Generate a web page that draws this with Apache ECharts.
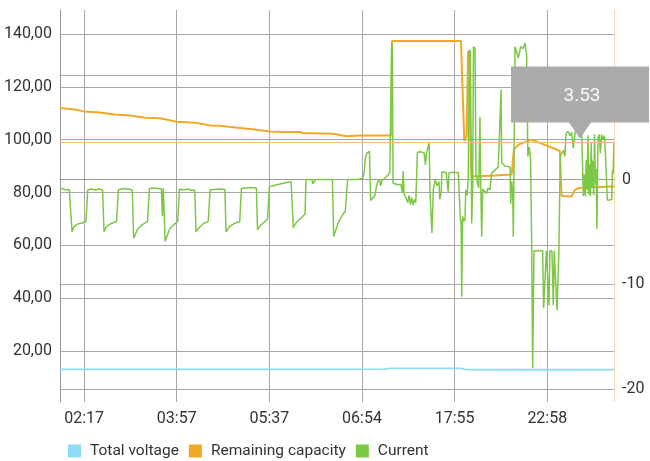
<!DOCTYPE html>
<html>
<head>
<meta charset="utf-8">
<script src="https://cdn.jsdelivr.net/npm/echarts@6/dist/echarts.min.js"></script>
<style>
html,body{margin:0;padding:0;background:#fff;}
#chart{width:650px;height:461px;}
</style>
</head>
<body>
<div id="chart"></div>
<script>
// x positions are sample indices; labels at the given sample indices
const xLabelPos = [26, 126, 226, 326, 426, 526];
const xLabels = ['02:17', '03:57', '05:37', '06:54', '17:55', '22:58'];
const leftTicks = [20, 40, 60, 80, 100, 120, 140];
const rightTicks = [-20, -10, 0, 10];

const voltage = [
  [0,13.05],[100,13.1],[200,13.05],[300,13.1],[350,13.2],[358,13.45],[420,13.5],[433,13.45],[438,13.0],[500,12.95],[598,13.0]
];

const capacity = [
  [0,112.0],[16,111.4],[26,110.7],[43,110.3],[59,109.5],[76,109.1],[92,108.3],[108,108.1],[126,106.8],[146,106.4],
  [162,105.4],[173,105.3],[184,104.8],[205,104.0],[227,103.1],[241,102.9],[259,102.9],[262,102.5],[295,102.2],[309,101.3],
  [324,101.6],[357.5,101.6],[358.5,137.3],[432.8,137.3],[436.4,99.5],[437.2,98.9],[439,101.3],[440.5,133.5],[442.5,133.5],
  [444.2,86.1],[446,86.1],[470,86.4],[487.5,86.8],[490,96.4],[495,98.1],[509,100.0],[539.5,95.8],[541.5,78.7],[552,78.5],
  [555.9,81.0],[560,81.7],[575,82.0],[598,82.3]
];

const current = [
  [0,-1.0],[3,-0.85],[6,-1.0],[10,-0.95],[11,-1.0],[13,-5.0],[15,-4.5],[19,-4.25],[24,-4.15],[28,-4.0],[29,-3.95],[30,-1.0],
  [33,-0.9],[38,-1.0],[42,-0.9],[46,-1.0],[47.5,-5.0],[50,-4.5],[55,-4.2],[61,-4.0],[62,-3.9],[63,-1.0],
  [68,-0.85],[73,-0.9],[78,-1.0],[79.5,-5.6],[84,-4.7],[89,-4.3],[94.5,-4.0],[95.5,-3.9],[96.5,-0.85],
  [101,-0.8],[106,-0.85],[109.5,-0.9],[110.5,-3.5],[111.5,-0.8],[112.5,-0.9],[113.5,-5.9],[118.5,-4.7],[123,-4.3],[127,-4.0],[128,-3.9],[129,-0.9],
  [133,-1.0],[138,-0.9],[142,-1.05],[145.5,-1.0],[146.8,-5.0],[150,-4.6],[155,-4.2],[160,-4.0],[161,-3.9],[162,-1.0],
  [166,-0.95],[171,-0.9],[178,-0.95],[179.2,-5.0],[183,-4.5],[188,-4.2],[194,-4.0],[195,-3.9],[195.8,-0.85],
  [200,-0.8],[206,-0.75],[212,-0.8],[213.2,-4.8],[216,-4.4],[220,-4.1],[224,-3.8],[225,-3.75],[226,-0.7],
  [232,-0.55],[239,-0.4],[246,-0.25],[249.5,-0.2],[251.8,-4.6],[255,-4.1],[261,-3.6],[264.5,-3.3],[265.5,0.0],
  [272,0.0],[273,-0.4],[275,-0.35],[276,0.0],[285,0.0],[294,0.0],
  [295.4,-5.45],[300,-4.2],[304,-3.5],[308,-3.0],[309.5,-2.9],[310.5,0.0],
  [322,0.0],[324,0.1],[327,0.15],[328.5,0.8],[329.5,2.0],[331,2.5],[334,2.7],[335.3,-2.0],
  [337,-1.9],[340,-1.5],[341.5,-0.7],[343,-0.2],[345,0.0],[346,-0.6],[347.5,-0.1],[350,0.1],[354,0.4],[356,0.75],[357.5,0.8],
  [358,13.1],[358.8,12.5],[359.5,-0.35],
  [361,-0.4],[365,-0.5],[368,-0.45],[369.5,-1.3],[370.5,0.8],[371.3,-1.3],[373,-1.2],[375.3,-2.2],[376.7,-1.5],[378.2,-2.4],
  [379.6,-1.7],[381,-2.4],[382.5,-1.9],[384,-2.2],
  [385,-2.1],[385.8,2.6],[389,2.65],[393,2.55],[394.5,1.4],[395.5,2.5],[397.5,2.55],[398.5,3.5],[399.4,-1.3],[401.5,-5.1],
  [403,-0.9],[405,0.0],[407,-0.6],[409,-0.2],[410,-1.9],[411.5,-1.2],[412.3,0.75],
  [413,0.7],[417,0.65],[418.5,0.6],[419,-1.15],[420,0.65],[425,0.7],[430,0.65],[431,0.6],
  [432,-3.5],[433,-4.3],[433.6,-11.2],[434.5,-3.5],[436,-4.0],[437.2,-3.8],[438,-1.0],[439.5,-1.5],[440.7,0.3],[442,12.4],
  [443,12.2],[444.4,-4.2],[445.5,-0.5],[446.3,12.7],[448,12.5],[449,0.6],[450.5,-0.3],[452,-0.8],[453.3,6.0],[454.2,-0.5],
  [455.2,-5.45],[456.3,-0.9],[458,-1.1],[460.6,-1.3],[462,-0.8],[464,-1.0],[466,0.6],[469.5,0.9],[473,1.2],[474.2,3.8],
  [476,8.6],[476.8,1.6],[480.3,1.3],[485.7,1.2],[486.5,-2.3],[487.5,-0.2],[488.6,-1.0],[489.3,-5.45],[490,0.4],[491.1,12.7],
  [492.2,12.4],[494.7,11.6],[497.3,12.7],[500,12.5],[502,13.05],[503.7,11.8],
  [505,2.2],[506.5,3.1],[508,2.0],[509.2,-6.8],[510.2,-18.0],[511.6,-6.8],
  [513,-6.75],[521,-6.8],[522,-12.3],[524,-12.4],[525,-6.8],[527,-6.8],[527.8,-12.0],[528.8,-6.8],[531,-6.8],[532.5,-12.0],
  [533.5,-6.8],[535.5,-6.9],[536.5,-12.5],[537.5,-12.4],[538.5,-6.8],[539.3,-6.7],[540,2.2],
  [541,2.3],[543.3,2.8],[545,2.2],[546.2,4.4],[548.3,4.6],[550.5,4.2],[552.3,4.5],[554,3.0],[555.9,4.4],[557.5,5.1],
  [559.1,4.5],[561,4.0],[563.1,4.7],[564.4,4.6],[564.9,-1.6],
  [566,0.5],[567,-1.6],[568,1.9],[569,-1.0],[569.9,4.2],[570.8,-1.4],[571.7,1.5],[572.5,-1.6],[573.4,3.5],[574.3,-0.8],
  [575.2,1.8],[576,-1.5],[577,4.3],[578,-0.5],[578.8,1.0],[579.5,-4.7],[580.7,4.0],[582,4.3],[583.3,2.5],[584.5,4.3],
  [586,3.8],[587.5,4.2],[588.5,3.0],[590.8,-1.95],[593,-1.95],[595.6,-1.9],[596.3,0.9],[597,0.5],[598,3.53]
];

const seriesNames = ['Total voltage', 'Remaining capacity', 'Current'];
const seriesColors = ['#8fdcf4', '#f2a827', '#7cc845'];

const last = current[current.length - 1];
const FONT = 'Roboto, "Noto Sans", sans-serif';
const gridColor = '#a8a8a8';
const hiColor = 'rgb(255,187,115)';

const chart = echarts.init(document.getElementById('chart'), null, {renderer: 'canvas'});
chart.setOption({
  animation: false,
  backgroundColor: '#fff',
  grid: {left: 60, right: 36, top: 10, bottom: 59},
  legend: {
    left: 63, top: 438, icon: 'rect', itemWidth: 13, itemHeight: 13, itemGap: 10,
    data: seriesNames,
    textStyle: {fontFamily: FONT, fontSize: 15.5, color: '#333', padding: [0, 0, 0, 4]}
  },
  xAxis: {
    type: 'value', min: current[0][0], max: last[0],
    axisLine: {show: true, lineStyle: {color: '#999', width: 1}},
    axisTick: {show: false, customValues: xLabelPos},
    splitLine: {show: true, lineStyle: {color: gridColor, width: 1}},
    axisLabel: {
      customValues: xLabelPos, margin: 9,
      fontFamily: FONT, fontSize: 16, color: '#333',
      formatter: v => xLabels[xLabelPos.indexOf(v)] || ''
    }
  },
  yAxis: [
    {
      type: 'value', min: 0.74, max: 149.06, position: 'left',
      axisLine: {show: true, lineStyle: {color: '#999', width: 1}},
      axisTick: {show: false, customValues: leftTicks},
      splitLine: {show: true, lineStyle: {color: gridColor, width: 1}},
      axisLabel: {
        customValues: leftTicks, margin: 8,
        fontFamily: FONT, fontSize: 16, color: '#333',
        formatter: v => v.toFixed(2).replace('.', ',')
      }
    },
    {
      type: 'value', min: -21.25, max: 16.2, position: 'right',
      axisLine: {show: false},
      axisTick: {show: false, customValues: rightTicks},
      splitLine: {show: true, lineStyle: {color: gridColor, width: 1}},
      axisLabel: {
        customValues: rightTicks, margin: 8,
        fontFamily: FONT, fontSize: 16, color: '#333',
        formatter: v => String(v)
      }
    }
  ],
  series: [
    {
      name: seriesNames[0], type: 'line', yAxisIndex: 0, data: voltage,
      showSymbol: false, color: seriesColors[0], lineStyle: {width: 1.8}
    },
    {
      name: seriesNames[1], type: 'line', yAxisIndex: 0, data: capacity,
      showSymbol: false, color: seriesColors[1], lineStyle: {width: 2}
    },
    {
      name: seriesNames[2], type: 'line', yAxisIndex: 1, data: current,
      showSymbol: false, color: seriesColors[2], lineStyle: {width: 1.5},
      markLine: {
        silent: true, symbol: 'none', animation: false,
        label: {show: false},
        lineStyle: {color: hiColor, width: 1, type: 'solid'},
        data: [{yAxis: last[1]}, {xAxis: last[0], lineStyle: {color: 'rgba(240,200,140,0.7)'}}]
      },
      markPoint: {
        silent: true, animation: false,
        symbol: 'path://M0,0 H138 V56 H80 L69,72 L58,56 H0 Z',
        symbolSize: [138, 72], symbolOffset: [-34, -40],
        itemStyle: {color: '#ababab'},
        label: {
          show: true, color: '#f8f8f8', fontFamily: FONT, fontSize: 19, offset: [2, -6],
          formatter: p => String(p.value)
        },
        data: [{coord: [last[0], last[1]], value: last[1]}]
      }
    }
  ]
});
</script>
</body>
</html>
